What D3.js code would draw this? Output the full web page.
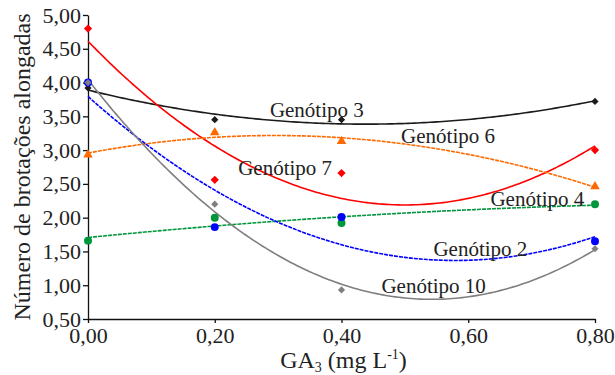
<!DOCTYPE html>
<html>
<head>
    <title>Brotações alongadas</title>
    <script src="https://d3js.org/d3.v7.min.js"></script>
    <style>
      body { margin: 0; background: #fff; }
      svg, svg text { font-family: "Liberation Serif", "Times New Roman", Times, serif; }
    </style>
</head>
<body>
    <div id="chart"></div>
    <script>

const doses = [0, 0.2, 0.4, 0.8];
const xTicks = [0, 0.2, 0.4, 0.6, 0.8];
const yTicks = [0.5, 1, 1.5, 2, 2.5, 3, 3.5, 4, 4.5, 5];

const gen3 = [3.92, 3.45, 3.45, 3.72];
const gen7 = [4.80, 2.56, 2.66, 3.00];
const gen6 = [2.93, 3.26, 3.13, 2.46];
const gen4 = [1.66, 2.00, 1.92, 2.20];
const gen2 = [4.00, 1.86, 2.01, 1.65];
const gen10 = [4.00, 2.20, 0.93, 1.54];

const names = ["Genótipo 3", "Genótipo 7", "Genótipo 6", "Genótipo 4", "Genótipo 2", "Genótipo 10"];

// look of each series and where its name sits (in data units)
const series = [
  {name: names[0], values: gen3, color: "#1a1a1a", dash: null, shape: "diamond", size: 26, lab: [0.287, 3.49]},
  {name: names[1], values: gen7, color: "#ff0000", dash: null, shape: "diamond", size: 34, lab: [0.237, 2.63]},
  {name: names[2], values: gen6, color: "#ff6a00", dash: "4,1", shape: "triangle", size: 40, lab: [0.494, 3.11]},
  {name: names[3], values: gen4, color: "#00963c", dash: "4,1", shape: "circle", size: 50, lab: [0.635, 2.18]},
  {name: names[4], values: gen2, color: "#0000ff", dash: "4,1", shape: "circle", size: 50, lab: [0.545, 1.43]},
  {name: names[5], values: gen10, color: "#7f7f7f", dash: null, shape: "diamond", size: 26, lab: [0.463, 0.88]}
];

// quadratic least squares fit y = a + b x + c x^2
function quadFit(xs, ys) {
  const s = k => d3.sum(xs, x => Math.pow(x, k));
  const t = k => d3.sum(xs, (x, i) => Math.pow(x, k) * ys[i]);
  const M = [[s(0), s(1), s(2), t(0)], [s(1), s(2), s(3), t(1)], [s(2), s(3), s(4), t(2)]];
  for (let i = 0; i < 3; i++) {
    for (let j = i + 1; j < 3; j++) {
      const f = M[j][i] / M[i][i];
      for (let k = i; k < 4; k++) M[j][k] -= f * M[i][k];
    }
  }
  const r = [0, 0, 0];
  for (let i = 2; i >= 0; i--) {
    let v = M[i][3];
    for (let k = i + 1; k < 3; k++) v -= M[i][k] * r[k];
    r[i] = v / M[i][i];
  }
  return x => r[0] + r[1] * x + r[2] * x * x;
}

const width = 615, height = 375;
const margin = {top: 15, right: 20, bottom: 56, left: 88};

const x = d3.scaleLinear().domain([0, 0.8]).range([margin.left, width - margin.right]);
const y = d3.scaleLinear().domain([0.5, 5]).range([height - margin.bottom, margin.top]);
const fmt = d => d3.format(".2f")(d).replace(".", ",");

const svg = d3.create("svg")
    .attr("width", width)
    .attr("height", height)
    .attr("viewBox", [0, 0, width, height]);

svg.append("g")
    .attr("transform", `translate(0,${height - margin.bottom})`)
    .call(d3.axisBottom(x).tickValues(xTicks).tickFormat(fmt).tickSize(4).tickSizeOuter(0).tickPadding(4))
    .attr("font-family", null)
    .attr("font-size", 22)
    .call(g => g.selectAll("text").attr("fill", "#222"))
    .call(g => g.selectAll("path, line").attr("stroke", "#111").attr("stroke-width", 1.3));

svg.append("g")
    .attr("transform", `translate(${margin.left},0)`)
    .call(d3.axisLeft(y).tickValues(yTicks).tickFormat(fmt).tickSize(5).tickSizeOuter(0).tickPadding(2))
    .attr("font-family", null)
    .attr("font-size", 22)
    .call(g => g.selectAll("text").attr("fill", "#222"))
    .call(g => g.selectAll("path, line").attr("stroke", "#111").attr("stroke-width", 1.3));

svg.selectAll(".domain").attr("fill", "none");

// axis titles
const xt = svg.append("text")
    .attr("x", (margin.left + width - margin.right) / 2 + 2)
    .attr("y", 368)
    .attr("text-anchor", "middle")
    .attr("font-size", 24)
    .attr("fill", "#222");
xt.append("tspan").text("GA");
xt.append("tspan").attr("font-size", 14).attr("dy", 4).text("3");
xt.append("tspan").attr("dy", -4).text(" (mg L");
xt.append("tspan").attr("font-size", 14).attr("dy", -9).text("-1");
xt.append("tspan").attr("dy", 9).text(")");

svg.append("text")
    .attr("transform", `translate(30,${(margin.top + height - margin.bottom) / 2}) rotate(-90)`)
    .attr("text-anchor", "middle")
    .attr("font-size", 24)
    .attr("fill", "#222")
    .text("Número de brotações alongadas");

const xs = d3.range(0, 0.8001, 0.005);
const line = d3.line().x(d => x(d[0])).y(d => y(d[1]));

for (const s of series) {
  const f = quadFit(doses, s.values);
  svg.append("path")
      .attr("d", line(xs.map(v => [v, f(v)])))
      .attr("fill", "none")
      .attr("stroke", s.color)
      .attr("stroke-width", 1.6)
      .attr("stroke-dasharray", s.dash);
}

for (const s of series) {
  const type = s.shape === "circle" ? d3.symbolCircle : s.shape === "triangle" ? d3.symbolTriangle : d3.symbolSquare;
  const rot = s.shape === "diamond" ? 45 : 0;
  const sym = d3.symbol().type(type).size(s.size);
  svg.append("g")
    .selectAll("path")
    .data(doses.map((d, i) => [d, s.values[i]]))
    .join("path")
      .attr("d", sym)
      .attr("transform", d => `translate(${x(d[0])},${y(d[1])}) rotate(${rot})`)
      .attr("fill", s.color);
}

svg.append("g")
    .attr("font-size", 21)
    .attr("fill", "#222")
  .selectAll("text")
  .data(series)
  .join("text")
    .attr("x", d => x(d.lab[0]))
    .attr("y", d => y(d.lab[1]))
    .text(d => d.name);

document.getElementById("chart").appendChild(svg.node());

    </script>
</body>
</html>
